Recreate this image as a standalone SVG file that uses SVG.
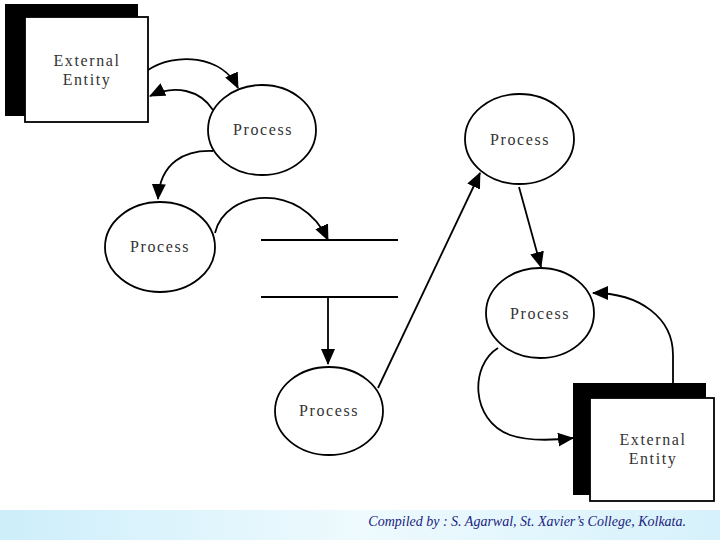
<svg xmlns="http://www.w3.org/2000/svg" width="720" height="540" viewBox="0 0 720 540">
<defs>
<marker id="ah" markerUnits="userSpaceOnUse" markerWidth="16" markerHeight="14" viewBox="0 0 16 14" refX="15" refY="7" orient="auto">
<path d="M0,0 L16,7 L0,14 Z" fill="#000"/>
</marker>
<linearGradient id="band" x1="0" y1="0" x2="1" y2="0">
<stop offset="0" stop-color="#cdeefa"/>
<stop offset="0.5" stop-color="#eefafe"/>
<stop offset="1" stop-color="#d6f1fb"/>
</linearGradient>
</defs>
<style>
.p{fill:#fff;stroke:#000;stroke-width:1.8}
.sh{fill:#000}
.bx{fill:#fff;stroke:#000;stroke-width:1.8}
.t{font-family:"Liberation Serif","DejaVu Serif",serif;font-size:16px;letter-spacing:1.6px;fill:#333;text-anchor:middle}
.c{fill:none;stroke:#000;stroke-width:1.8;marker-end:url(#ah)}
.ds{stroke:#000;stroke-width:1.8}
</style>
<rect width="720" height="540" fill="#fff"/>
<rect x="0" y="510" width="720" height="30" fill="url(#band)"/>
<text x="686" y="526" font-family="Liberation Serif, serif" font-style="italic" font-size="14" fill="#1a237e" text-anchor="end">Compiled by : S. Agarwal, St. Xavier’s College, Kolkata.</text>

<g id="entity1">
<rect class="sh" x="5" y="4" width="133" height="112"/>
<rect class="bx" x="25" y="17" width="123" height="105"/>
<text class="t" x="87" y="66">External</text>
<text class="t" x="87" y="85">Entity</text>
</g>
<g id="process1">
<ellipse class="p" cx="262" cy="130" rx="54" ry="45"/>
<text class="t" x="263" y="135">Process</text>
</g>
<g id="process2">
<ellipse class="p" cx="160" cy="247" rx="55" ry="45"/>
<text class="t" x="160" y="252">Process</text>
</g>
<g id="datastore">
<line class="ds" x1="261" y1="240" x2="398" y2="240"/>
<line class="ds" x1="261" y1="297" x2="398" y2="297"/>
</g>
<g id="process3">
<ellipse class="p" cx="329" cy="411" rx="54" ry="44"/>
<text class="t" x="329" y="416">Process</text>
</g>
<g id="process4">
<ellipse class="p" cx="519.5" cy="139" rx="54.5" ry="45"/>
<text class="t" x="520" y="145">Process</text>
</g>
<g id="process5">
<ellipse class="p" cx="540" cy="313" rx="54" ry="45"/>
<text class="t" x="540" y="319">Process</text>
</g>
<g id="entity2">
<rect class="sh" x="573" y="383" width="133" height="112"/>
<rect class="bx" x="590" y="398" width="124" height="103"/>
<text class="t" x="653" y="445">External</text>
<text class="t" x="653" y="464">Entity</text>
</g>

<g id="connectors">
<path class="c" d="M148,70 C175,52 222,55 238,88"/>
<path class="c" d="M213,110 C200,90 175,84 150,96"/>
<path class="c" d="M213,151 C185,150 160,162 158,199"/>
<path class="c" d="M215,233 C225,190 300,180 328,240"/>
<path class="c" d="M328,297 L328,364"/>
<path class="c" d="M378,388 L480,173"/>
<path class="c" d="M519,187 L541,267"/>
<path class="c" d="M673,383 L673,355 C673,318 640,293 593,293"/>
<path class="c" d="M498,348 C470,365 470,420 510,435 C530,442 555,440 573,438"/>
</g>
</svg>
